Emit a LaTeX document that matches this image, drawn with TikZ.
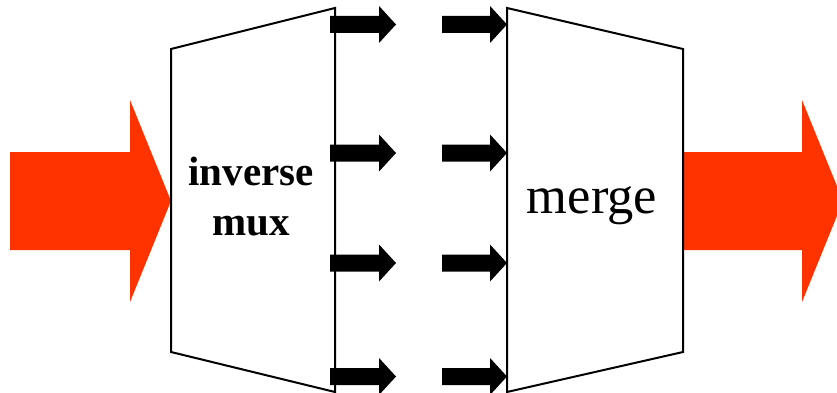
\documentclass[tikz,border=0pt]{standalone}
\usepackage{fontspec}
\setmainfont{Liberation Serif}
\usepackage{tikz}
\usetikzlibrary{positioning}

\definecolor{flowred}{HTML}{FF3300}

% block arrow: style, start x, centre y, head start x, tip x, shaft half width, head half width
\newcommand{\blockarrow}[7]{%
	\fill[#1] (#2,#3-#6) -- (#4,#3-#6) -- (#4,#3-#7) -- (#5,#3)
		-- (#4,#3+#7) -- (#4,#3+#6) -- (#2,#3+#6) -- cycle;}

\begin{document}
\begin{tikzpicture}[x=1pt,y=-1pt,
	box/.style={draw=black,line width=2pt,line join=miter},
	lane/.style={black}]
	\useasboundingbox[fill=white] (0,0) rectangle (837,393);

	% big red input and output streams
	\blockarrow{flowred}{10}{201}{130}{171}{49}{101}
	\blockarrow{flowred}{682}{201}{802}{843}{49}{101}

	% inverse mux
	\coordinate (muxtl) at (171,49);
	\coordinate (muxtr) at (335,8);
	\coordinate (muxbr) at (335,392);
	\coordinate (muxbl) at (171,352);
	\draw[box] (muxtl) -- (muxtr) -- (muxbr) -- (muxbl) -- cycle;
	\node[font=\bfseries\fontsize{41}{50}\selectfont,align=center,anchor=base]
		(mux) at (251,235) {inverse\\mux};

	% merge
	\coordinate (mrgtl) at (507,8);
	\coordinate (mrgtr) at (683,49);
	\coordinate (mrgbr) at (683,352);
	\coordinate (mrgbl) at (507,392);
	\draw[box] (mrgtl) -- (mrgtr) -- (mrgbr) -- (mrgbl) -- cycle;
	\node[font=\fontsize{52.5}{60}\selectfont,anchor=base]
		(merge) at (592,213) {merge};

	% the four lanes in between
	\foreach \y in {24.5,153,263,376.5}{
		\blockarrow{lane}{330}{\y}{379}{396}{8.5}{18.5}
		\blockarrow{lane}{442}{\y}{490}{507}{8.5}{18.5}
	}
\end{tikzpicture}
\end{document}
